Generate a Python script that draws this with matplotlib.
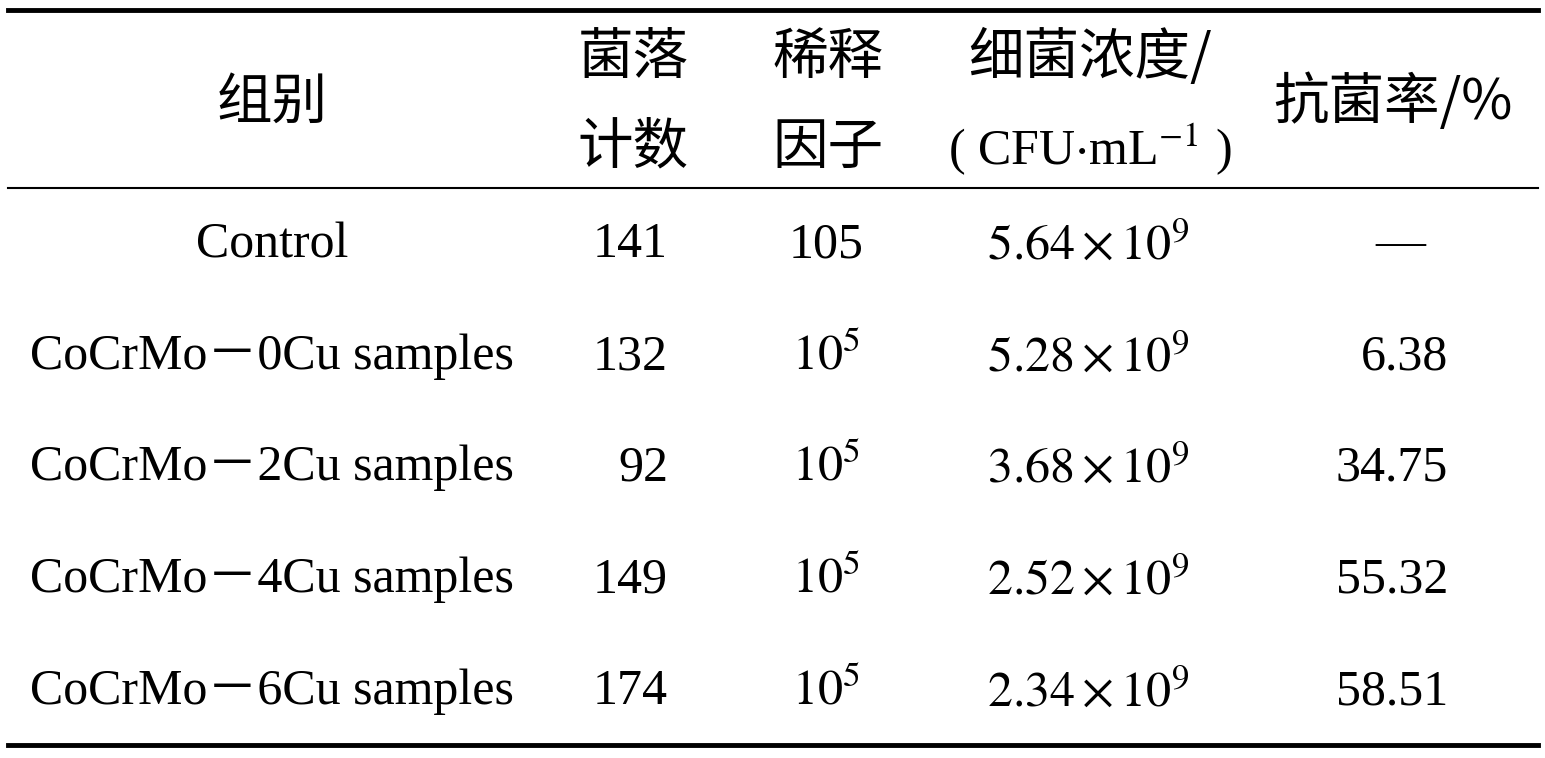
import matplotlib
matplotlib.use("Agg")
import matplotlib.pyplot as plt

plt.rcParams["mathtext.fontset"] = "stix"

groups = ["Control", "CoCrMo－0Cu samples", "CoCrMo－2Cu samples",
          "CoCrMo－4Cu samples", "CoCrMo－6Cu samples"]
counts = ["141", "132", "92", "149", "174"]
dilution = ["105", r"$10^{5}$", r"$10^{5}$", r"$10^{5}$", r"$10^{5}$"]
conc_mant = ["5.64", "5.28", "3.68", "2.52", "2.34"]
rate = ["—", "6.38", "34.75", "55.32", "58.51"]

W, H = 1545, 758
fig = plt.figure(figsize=(W / 100, H / 100), dpi=100)
ax = fig.add_axes([0, 0, 1, 1])
ax.set_xlim(0, W)
ax.set_ylim(H, 0)
ax.axis("off")

cjk = "Noto Sans CJK SC"
serif = ["Liberation Serif", "Noto Sans CJK SC"]
fs = 36
fc = 40

# rules
ax.plot([8, 1538], [10, 10], color="black", lw=3.5)
ax.plot([8, 1538], [188, 188], color="black", lw=1.5)
ax.plot([8, 1538], [745, 745], color="black", lw=3.5)

# header
ax.text(272, 103, "组别", fontfamily=cjk, fontsize=fc, ha="center", va="center")
ax.text(633, 58, "菌落", fontfamily=cjk, fontsize=fc, ha="center", va="center")
ax.text(633, 148, "计数", fontfamily=cjk, fontsize=fc, ha="center", va="center")
ax.text(828, 58, "稀释", fontfamily=cjk, fontsize=fc, ha="center", va="center")
ax.text(828, 148, "因子", fontfamily=cjk, fontsize=fc, ha="center", va="center")
ax.text(1090, 58, "细菌浓度/", fontfamily=cjk, fontsize=fc, ha="center", va="center")
ax.text(1090, 150, r"( CFU$\cdot$mL$^{-1}$ )", fontfamily=serif, fontsize=fs,
        ha="center", va="center")
ax.text(1393, 103, "抗菌率/%", fontfamily=cjk, fontsize=fc, ha="center", va="center")

row_y = [245, 357, 468, 580, 692]
for i, y in enumerate(row_y):
    ax.text(272, y, groups[i], fontfamily=serif, fontsize=fs, ha="center", va="center")
    ax.text(668, y, counts[i], fontfamily=serif, fontsize=fs, ha="right", va="center")
    ax.text(826, y, dilution[i], fontfamily=serif, fontsize=fs, ha="center", va="center")
    ax.text(1088, y, r"$%s\times10^{9}$" % conc_mant[i], fontsize=fs,
            ha="center", va="center")
    if rate[i] == "—":
        ax.text(1400, y, rate[i], fontfamily=serif, fontsize=fs, ha="center", va="center")
    else:
        ax.text(1448, y, rate[i], fontfamily=serif, fontsize=fs, ha="right", va="center")

fig.savefig("out.png", dpi=100)
